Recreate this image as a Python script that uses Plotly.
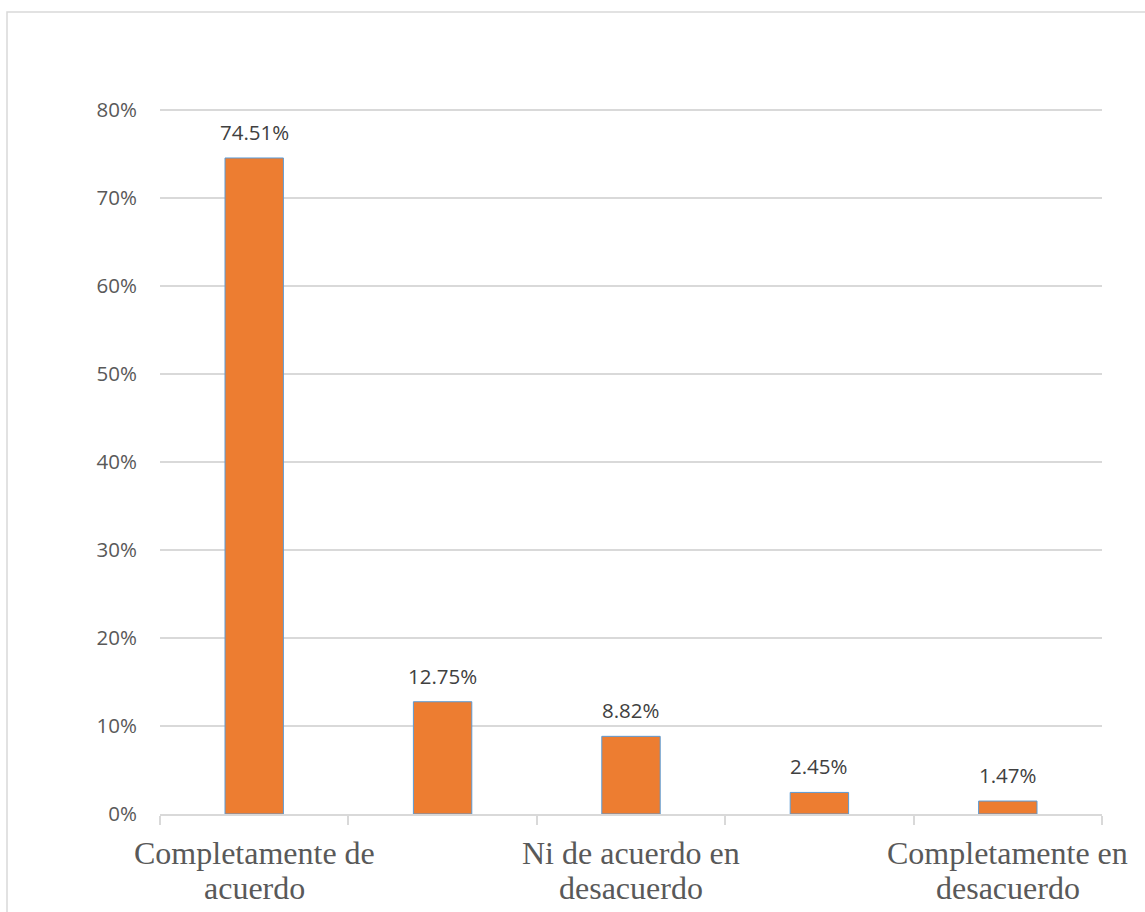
import plotly.graph_objects as go

categories = ["Completamente de acuerdo", "De acuerdo", "Ni de acuerdo en desacuerdo",
              "En desacuerdo", "Completamente en desacuerdo"]
values = [0.7451, 0.1275, 0.0882, 0.0245, 0.0147]
value_labels = ["74.51%", "12.75%", "8.82%", "2.45%", "1.47%"]
label_line1 = ["Completamente de", "", "Ni de acuerdo en", "", "Completamente en"]
label_line2 = ["acuerdo", "", "desacuerdo", "", "desacuerdo"]
y_ticks = [0, 0.1, 0.2, 0.3, 0.4, 0.5, 0.6, 0.7, 0.8]
y_tick_text = ["0%", "10%", "20%", "30%", "40%", "50%", "60%", "70%", "80%"]

W, H = 1145, 912
L, R, T, B = 160, 43, 107, 98
pw, ph = W - L - R, H - T - B
axis_px = H - B  # pixel row of the x axis

fig = go.Figure()
fig.add_trace(go.Bar(
    x=categories, y=values, width=0.31,
    marker=dict(color="#ED7D31", line=dict(color="#5B9BD5", width=1)),
    hoverinfo="skip",
))
for c, v, t in zip(categories, values, value_labels):
    fig.add_annotation(x=c, y=v, text=t, showarrow=False, yanchor="bottom", yshift=10,
                       font=dict(family="Open Sans", size=20.5, color="#404040"))

label_font = dict(family="Liberation Serif", size=32, color="#595959")
for c, l1, l2 in zip(categories, label_line1, label_line2):
    if l1:
        fig.add_annotation(x=c, xref="x", yref="paper", y=-(853 - axis_px) / ph,
                           text=l1, showarrow=False, yanchor="middle", font=label_font)
    if l2:
        fig.add_annotation(x=c, xref="x", yref="paper", y=-(888 - axis_px) / ph,
                           text=l2, showarrow=False, yanchor="middle", font=label_font)

fig.add_shape(type="rect", xref="paper", yref="paper",
              x0=(7 - L) / pw, x1=(W + 5 - L) / pw,
              y0=(axis_px - (H + 5)) / ph, y1=(axis_px - 12) / ph,
              line=dict(color="#D9D9D9", width=1.5), layer="below")

fig.update_layout(
    width=W, height=H, margin=dict(l=L, r=R, t=T, b=B, autoexpand=False),
    paper_bgcolor="white", plot_bgcolor="white", showlegend=False,
    bargap=0.69,
    xaxis=dict(
        type="category", categoryorder="array", categoryarray=categories,
        range=[-0.5, len(categories) - 0.5],
        tickmode="array", tickvals=categories,
        ticktext=[""] * len(categories),
        tickson="boundaries", ticks="outside", ticklen=9, tickwidth=1.5,
        tickcolor="#D9D9D9",
        tickangle=0, automargin=False,
        showline=True, linecolor="#D9D9D9", linewidth=1.5, showgrid=False,
        fixedrange=True,
    ),
    yaxis=dict(
        range=[0, 0.803], tickmode="array", tickvals=y_ticks, ticktext=y_tick_text,
        showgrid=True, gridcolor="#D9D9D9", gridwidth=1.5, zeroline=False,
        showline=False, ticks="", ticklabelstandoff=22, automargin=False,
        tickfont=dict(family="Open Sans", size=20.5, color="#595959"),
        fixedrange=True,
    ),
)

fig.write_html("out.html")
